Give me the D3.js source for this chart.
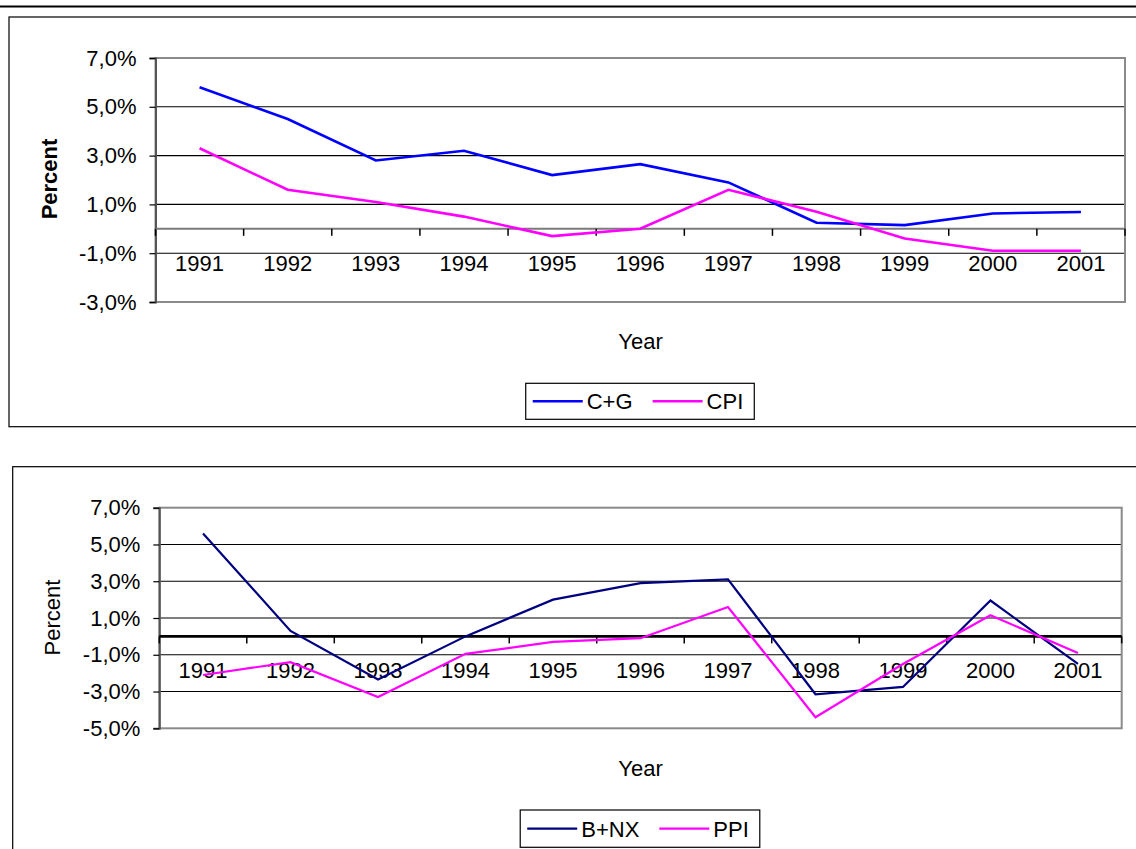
<!DOCTYPE html>
<html>
<head>
<meta charset="utf-8">
<script src="https://cdn.jsdelivr.net/npm/d3@7"></script>
<style>
  html, body { margin: 0; padding: 0; background: #fff; }
  svg { display: block; }
  text { font-family: "Liberation Sans", Arial, sans-serif; fill: #000; }
</style>
</head>
<body>
<svg id="chart" width="1136" height="849"></svg>
<script>
// ---------- DATA ----------
const years = ["1991","1992","1993","1994","1995","1996","1997","1998","1999","2000","2001"];

const cgValues  = [5.8, 4.5, 2.8, 3.2, 2.2, 2.65, 1.9, 0.25, 0.15, 0.63, 0.69];
const cpiValues = [3.3, 1.6, 1.1, 0.5, -0.3, 0.0, 1.6, 0.7, -0.4, -0.9, -0.9];

const bnxValues = [5.6, 0.3, -2.35, 0.0, 2.0, 2.9, 3.1, -3.15, -2.75, 1.95, -1.5];
const ppiValues = [-2.1, -1.4, -3.3, -0.95, -0.3, -0.1, 1.6, -4.4, -1.5, 1.15, -0.9];

const topTicks    = [-3, -1, 1, 3, 5, 7];
const bottomTicks = [-5, -3, -1, 1, 3, 5, 7];

const topSeriesNames    = ["C+G", "CPI"];
const bottomSeriesNames = ["B+NX", "PPI"];

// ---------- SETUP ----------
const svg = d3.select("#chart");
const locale = d3.formatLocale({decimal: ",", thousands: ".", grouping: [3], currency: ["", ""], minus: "-"});
const fmt = v => locale.format(".1f")(v) + "%";
const FONT = 22;

// top decorative rule
svg.append("line").attr("x1", 0).attr("x2", 1136).attr("y1", 6.5).attr("y2", 6.5)
  .attr("stroke", "#000").attr("stroke-width", 2.2);

function drawChart(cfg) {
  const g = svg.append("g");
  // outer frame
  g.append("rect").attr("x", cfg.frame.x).attr("y", cfg.frame.y)
    .attr("width", cfg.frame.w).attr("height", cfg.frame.h)
    .attr("fill", "#fff").attr("stroke", "#000").attr("stroke-width", 1.2);

  const x = d3.scaleBand().domain(years).range([cfg.plot.left, cfg.plot.right]).padding(0);
  const y = d3.scaleLinear().domain(cfg.yDomain).range([cfg.plot.bottom, cfg.plot.top]);

  // gridlines
  g.append("g").selectAll("line").data(cfg.ticks.filter(t => t !== cfg.yDomain[0] && t !== cfg.yDomain[1]))
    .join("line")
    .attr("x1", cfg.plot.left).attr("x2", cfg.plot.right)
    .attr("y1", d => y(d)).attr("y2", d => y(d))
    .attr("stroke", "#000").attr("stroke-width", 1.1);

  // plot border (gray)
  g.append("rect").attr("x", cfg.plot.left).attr("y", cfg.plot.top)
    .attr("width", cfg.plot.right - cfg.plot.left).attr("height", cfg.plot.bottom - cfg.plot.top)
    .attr("fill", "none").attr("stroke", "#8a8a8a").attr("stroke-width", 2);

  // y axis
  const yAxis = d3.axisLeft(y).tickValues(cfg.ticks).tickFormat(fmt).tickSize(6).tickPadding(13);
  const ya = g.append("g").attr("transform", `translate(${cfg.plot.left},0)`).call(yAxis);
  ya.select(".domain").attr("stroke", cfg.yAxisColor).attr("stroke-width", 2);
  ya.selectAll(".tick line").attr("stroke", "#000").attr("stroke-width", 1.2);
  ya.selectAll(".tick text").attr("font-size", FONT).attr("font-family", '"Liberation Sans", Arial, sans-serif').attr("fill", "#000");

  // x axis at zero
  const y0 = y(0);
  g.append("line").attr("x1", cfg.plot.left).attr("x2", cfg.plot.right)
    .attr("y1", y0).attr("y2", y0)
    .attr("stroke", cfg.zeroColor).attr("stroke-width", cfg.zeroWidth);
  const tickXs = years.map(c => x(c)).concat([cfg.plot.right]);
  g.append("g").selectAll("line").data(tickXs).join("line")
    .attr("x1", d => d).attr("x2", d => d)
    .attr("y1", y0).attr("y2", y0 + 7)
    .attr("stroke", "#000").attr("stroke-width", 1.5);
  g.append("g").selectAll("text").data(years).join("text")
    .attr("x", d => x(d) + x.bandwidth() / 2)
    .attr("y", y0 + 42)
    .attr("text-anchor", "middle").attr("font-size", FONT)
    .text(d => d);

  // series lines
  const line = d3.line().x((d, i) => x(years[i]) + x.bandwidth() / 2).y(d => y(d));
  cfg.series.forEach(s => {
    g.append("path").datum(s.values)
      .attr("d", line).attr("fill", "none")
      .attr("stroke", s.color).attr("stroke-width", s.width)
      .attr("stroke-linejoin", "miter");
  });

  // axis titles
  g.append("text")
    .attr("transform", `translate(${cfg.yTitle.x},${cfg.yTitle.y}) rotate(-90)`)
    .attr("text-anchor", "middle").attr("dominant-baseline", "central")
    .attr("font-size", FONT).attr("font-weight", cfg.yTitle.bold ? "bold" : "normal")
    .text("Percent");
  g.append("text").attr("x", 640.5).attr("y", cfg.xTitleY)
    .attr("text-anchor", "middle").attr("font-size", FONT).text("Year");

  // legend
  const lg = g.append("g");
  const box = lg.append("rect").attr("fill", "#fff").attr("stroke", "#000").attr("stroke-width", 1.2);
  let cx = 0;
  const items = [];
  cfg.series.forEach((s, i) => {
    if (i > 0) cx += 13;
    const l = lg.append("line").attr("x1", cx + 7).attr("x2", cx + 57)
      .attr("stroke", s.color).attr("stroke-width", s.width);
    const t = lg.append("text").attr("x", cx + 61).attr("font-size", FONT).text(s.name);
    const w = t.node().getComputedTextLength();
    items.push({l, t});
    cx += 61 + w;
  });
  const boxW = cx + 11;
  const bx = 640 - boxW / 2;
  lg.attr("transform", `translate(${bx},${cfg.legend.y})`);
  box.attr("x", 0).attr("y", 0).attr("width", boxW).attr("height", cfg.legend.h);
  items.forEach(it => {
    it.l.attr("y1", cfg.legend.h / 2).attr("y2", cfg.legend.h / 2);
    it.t.attr("y", cfg.legend.h / 2 + 8);
  });
}

drawChart({
  frame: {x: 9, y: 17, w: 1140, h: 409.7},
  plot: {left: 155.5, right: 1125, top: 58, bottom: 302},
  yDomain: [-3, 7],
  ticks: topTicks,
  yAxisColor: "#555",
  zeroColor: "#7a7a7a", zeroWidth: 2,
  yTitle: {x: 49, y: 179, bold: true},
  xTitleY: 349,
  legend: {y: 383.3, h: 36},
  series: [
    {name: topSeriesNames[0], values: cgValues, color: "#0000ff", width: 2.6},
    {name: topSeriesNames[1], values: cpiValues, color: "#ff00ff", width: 2.6}
  ]
});

drawChart({
  frame: {x: 12.7, y: 466.7, w: 1140, h: 400},
  plot: {left: 159.3, right: 1121.7, top: 507.7, bottom: 728.3},
  yDomain: [-5, 7],
  ticks: bottomTicks,
  yAxisColor: "#555",
  zeroColor: "#000", zeroWidth: 2.6,
  yTitle: {x: 52.7, y: 617.5, bold: false},
  xTitleY: 776,
  legend: {y: 810, h: 37.3},
  series: [
    {name: bottomSeriesNames[0], values: bnxValues, color: "#000080", width: 2.2},
    {name: bottomSeriesNames[1], values: ppiValues, color: "#ff00ff", width: 2.2}
  ]
});
</script>
</body>
</html>
